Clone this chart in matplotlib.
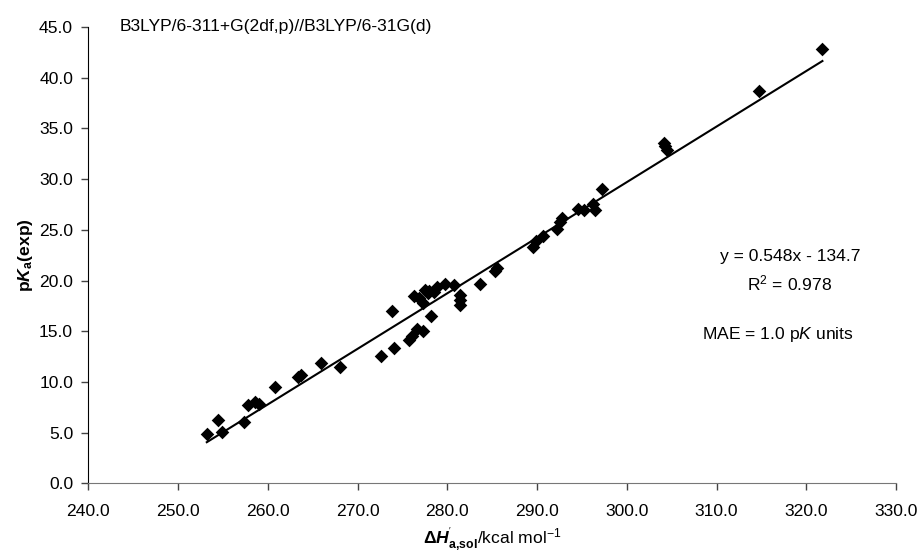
import matplotlib
matplotlib.use("Agg")
import matplotlib.pyplot as plt
import numpy as np

plt.rcParams['font.family'] = ['Liberation Sans', 'DejaVu Sans']
plt.rcParams['mathtext.fontset'] = 'custom'
plt.rcParams['mathtext.rm'] = 'Liberation Sans'
plt.rcParams['mathtext.it'] = 'Liberation Sans:italic'
plt.rcParams['mathtext.bf'] = 'Liberation Sans:bold'
plt.rcParams['mathtext.bfit'] = 'Liberation Sans:bold:italic'

dH = [253.2, 254.4, 254.9, 257.4, 257.8, 258.6, 259.0, 260.8, 263.4, 263.7,
      265.9, 268.0, 272.6, 274.1, 273.8, 275.7, 276.1, 276.6, 277.3, 278.2,
      276.3, 277.5, 277.9, 277.3, 278.8, 278.5, 279.8, 280.8, 281.4, 281.4,
      281.4, 283.6, 285.3, 285.5, 289.6, 289.9, 290.7, 292.2, 292.6, 292.8,
      294.6, 295.2, 296.2, 296.5, 297.2, 304.1, 304.3, 304.5, 314.7, 321.8,
      276.9, 278.0]
pKa = [4.9, 6.25, 5.1, 6.0, 7.7, 8.05, 7.85, 9.45, 10.5, 10.65,
       11.9, 11.45, 12.55, 13.35, 16.95, 14.15, 14.55, 15.25, 15.0, 16.5,
       18.5, 19.1, 18.8, 17.8, 19.35, 18.9, 19.65, 19.6, 18.6, 18.1,
       17.6, 19.7, 20.9, 21.2, 23.35, 23.85, 24.4, 25.1, 25.8, 26.15,
       27.05, 27.0, 27.55, 27.0, 29.0, 33.6, 33.25, 32.9, 38.7, 42.8,
       18.3, 19.0]

slope = 0.548
intercept = -134.7

xticks = np.arange(240, 331, 10)
yticks = np.arange(0, 46, 5)

FS = 12.6

fig = plt.figure(figsize=(9.22, 5.57), dpi=100)
ax = fig.add_axes([0.0958, 0.1323, 0.876, 0.8192])

ax.scatter(dH, pKa, marker='D', s=48, color='black', zorder=3, linewidths=0)
xl = np.array([min(dH), max(dH)])
ax.plot(xl, slope * xl + intercept, color='black', lw=1.5, zorder=2)

ax.set_xlim(240, 330)
ax.set_ylim(0, 45)
ax.set_xticks(xticks)
ax.set_yticks(yticks)
ax.set_xticklabels([f"{v:.1f}" for v in xticks])
ax.set_yticklabels([f"{v:.1f}" for v in yticks])
ax.tick_params(direction='out', length=5, width=1, labelsize=FS, color='#444444')
ax.tick_params(axis='x', pad=10)
ax.tick_params(axis='y', pad=6)
ax.spines['top'].set_visible(False)
ax.spines['right'].set_visible(False)
ax.spines['left'].set_color('black')
ax.spines['bottom'].set_color('#777777')

ax.set_xlabel(r"$\mathbf{\Delta}\mathbfit{H}^{'}_{\mathbf{a,\!sol}}$/kcal mol$^{-1}$", fontsize=FS, labelpad=5)
ax.set_ylabel(r"$\mathbf{p}\mathbfit{K}_{\mathbf{a}}\mathbf{(exp)}$", fontsize=FS, labelpad=3)

fig.text(120 / 922, 1 - 27 / 557, "B3LYP/6-311+G(2df,p)//B3LYP/6-31G(d)", fontsize=FS,
         ha='left', va='center')
fig.text(790 / 922, 1 - 257 / 557, "y = 0.548x - 134.7", fontsize=FS, ha='center', va='center')
fig.text(790 / 922, 1 - 283 / 557, r"R$^2$ = 0.978", fontsize=FS, ha='center', va='center')
fig.text(778 / 922, 1 - 335 / 557, r"MAE = 1.0 p$K$ units", fontsize=FS, ha='center', va='center')

fig.savefig("out.png", dpi=100)
